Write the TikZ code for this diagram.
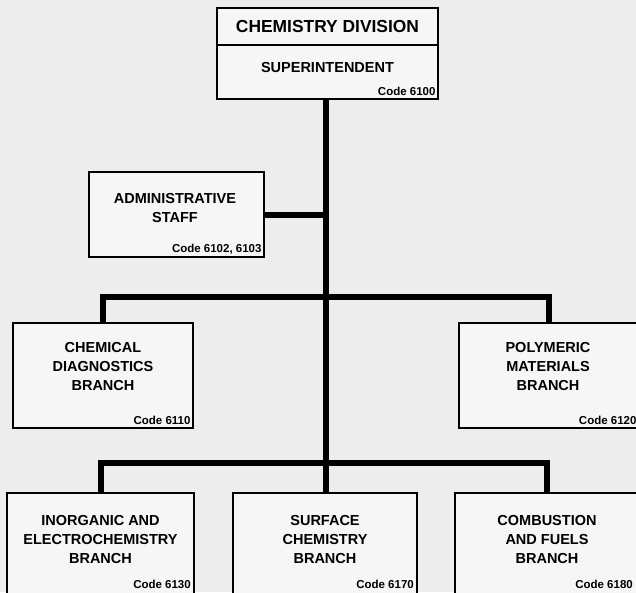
\documentclass[tikz,border=0pt]{standalone}
\usepackage{fontspec}
\setmainfont{Liberation Sans}
\usetikzlibrary{positioning}

\definecolor{paper}{gray}{0.93}
\definecolor{boxfill}{gray}{0.965}

\tikzset{
  unitbox/.style={draw, line width=1.4pt, fill=boxfill, inner sep=0pt},
  conn/.style={line width=6pt, line cap=butt, line join=miter},
  unitname/.style={font=\fontsize{14.5}{19}\selectfont\bfseries, align=center},
  divname/.style={font=\fontsize{17.4}{20}\selectfont\bfseries},
  codetext/.style={font=\fontsize{11.5}{12}\selectfont\bfseries, anchor=south east, inner xsep=3pt, inner ysep=3.5pt}
}

\begin{document}
\begin{tikzpicture}[x=1pt,y=-1pt]
\clip (0,0) rectangle (636,592);
\fill[paper] (0,0) rectangle (636,592);

% division head
\node[unitbox, minimum width=221pt, minimum height=91pt] (div) at (327.5,53.5) {};
\draw[line width=1.2pt] (217,45) -- (438,45);
\node[divname] (divtitle) at (327.5,27) {CHEMISTRY DIVISION};
\node[unitname] (supt) at (327.5,68) {SUPERINTENDENT};
\node[codetext] (divcode) at (div.south east) {Code 6100};

% staff
\node[unitbox, minimum width=175pt, minimum height=85pt] (staff) at (176.5,214.5) {};
\node[unitname] (stafftext) at (175,208) {ADMINISTRATIVE\\STAFF};
\node[codetext] (staffcode) at (staff.south east) {Code 6102, 6103};

% first row of branches
\node[unitbox, minimum width=180pt, minimum height=105pt] (chem) at (103,375.5) {};
\node[unitname] (chemtext) at (103,366) {CHEMICAL\\DIAGNOSTICS\\BRANCH};
\node[codetext] (chemcode) at (chem.south east) {Code 6110};

\node[unitbox, minimum width=180pt, minimum height=105pt] (poly) at (549,375.5) {};
\node[unitname] (polytext) at (548,366) {POLYMERIC\\MATERIALS\\BRANCH};
\node[codetext] (polycode) at (poly.south east) {Code 6120};

% second row of branches
\node[unitbox, minimum width=187pt, minimum height=110pt] (inorg) at (100.5,548) {};
\node[unitname] (inorgtext) at (100.5,539) {INORGANIC AND\\ELECTROCHEMISTRY\\BRANCH};
\node[codetext] (inorgcode) at (194,592) {Code 6130};

\node[unitbox, minimum width=184pt, minimum height=110pt] (surf) at (325,548) {};
\node[unitname] (surftext) at (325,539) {SURFACE\\CHEMISTRY\\BRANCH};
\node[codetext] (surfcode) at (417,592) {Code 6170};

\node[unitbox, minimum width=184pt, minimum height=110pt] (comb) at (547,548) {};
\node[unitname] (combtext) at (547,539) {COMBUSTION\\AND FUELS\\BRANCH};
\node[codetext] (combcode) at (636,592) {Code 6180};

% connectors
\coordinate (top) at (326,297);
\coordinate (low) at (326,463);
\draw[conn] (div.south -| low) -- (low);
\draw[conn] (staff.east) -- (staff.east -| top);
\draw[conn] (chem.north) |- (top) -| (poly.north);
\draw[conn] (inorg.north) |- (low) -| (comb.north);
\draw[conn] (low) -- (surf.north -| low);
\end{tikzpicture}
\end{document}
